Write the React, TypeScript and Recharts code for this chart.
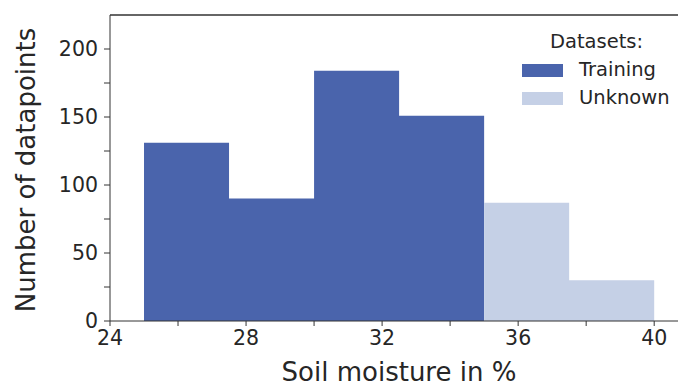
import React from 'react';
import { ComposedChart, Area, XAxis, YAxis, ReferenceLine, Legend } from 'recharts';

const binEdges = [25, 27.5, 30, 32.5, 35, 37.5, 40];
const trainingCounts: (number | null)[] = [131, 90, 184, 151, null, null];
const unknownCounts: (number | null)[] = [null, null, null, null, 87, 30];
const seriesNames = ['Training', 'Unknown'];
const seriesColors = ['#4a64ac', '#c5d0e6'];
const xTicks = [24, 26, 28, 30, 32, 34, 36, 38, 40];
const xMajorTicks = [24, 28, 32, 36, 40];
const yTicks = [0, 25, 50, 75, 100, 125, 150, 175, 200];
const yMajorTicks = [0, 50, 100, 150, 200];

const pick = (arr: (number | null)[], i: number): number | null => {
  const v = i < arr.length ? arr[i] : null;
  if (v != null) return v;
  const p = i > 0 ? arr[i - 1] : null;
  return p != null ? p : null;
};

const data = binEdges.map((x, i) => ({
  x,
  training: pick(trainingCounts, i),
  unknown: pick(unknownCounts, i),
}));

const FONT = '"DejaVu Sans", sans-serif';
const TEXT = '#262626';
const AXIS = '#333333';

const XTick = (props: any) => {
  const { x, y, payload } = props;
  if (!xMajorTicks.includes(payload.value)) return <g />;
  return (
    <text x={x} y={y + 17} textAnchor="middle" fontFamily={FONT} fontSize={20.5} fill={TEXT}>
      {payload.value}
    </text>
  );
};

const YTick = (props: any) => {
  const { x, y, payload } = props;
  if (!yMajorTicks.includes(payload.value)) return <g />;
  return (
    <text x={x - 4} y={y} dy="0.36em" textAnchor="end" fontFamily={FONT} fontSize={20.5} fill={TEXT}>
      {payload.value}
    </text>
  );
};

const LegendContent = () => (
  <div style={{ fontFamily: FONT, fontSize: 19.5, color: TEXT, lineHeight: '24px' }}>
    <div style={{ textAlign: 'center' }}>Datasets:</div>
    <div style={{ marginTop: 2.5 }}>
      {seriesNames.map((n, i) => (
        <div key={n} style={{ display: 'flex', alignItems: 'center', height: 28 }}>
          <div style={{ width: 41, height: 13, background: seriesColors[i], marginRight: 16 }} />
          <span>{n}</span>
        </div>
      ))}
    </div>
  </div>
);

export default function App() {
  return (
    <div style={{ position: 'absolute', left: 0, top: 0, width: 678, height: 387, background: '#fff' }}>
      <ComposedChart width={678} height={387} data={data} margin={{ top: 15, right: 0, left: 0, bottom: 0 }}>
        <XAxis
          type="number"
          dataKey="x"
          domain={[24, 40.7]}
          ticks={xTicks}
          allowDataOverflow
          height={66}
          stroke={AXIS}
          tickSize={5}
          tick={<XTick />}
          label={{
            content: () => (
              <text x={399} y={381} textAnchor="middle" fontFamily={FONT} fontSize={26} fill={TEXT}>
                Soil moisture in %
              </text>
            ),
          }}
        />
        <YAxis
          type="number"
          domain={[0, 225]}
          ticks={yTicks}
          width={110}
          stroke={AXIS}
          tickSize={6}
          tick={<YTick />}
          label={{
            content: () => (
              <text
                x={26}
                y={170}
                transform="rotate(-90 26 170)"
                textAnchor="middle"
                dominantBaseline="central"
                fontFamily={FONT}
                fontSize={26}
                fill={TEXT}
              >
                Number of datapoints
              </text>
            ),
          }}
        />
        <ReferenceLine y={225} stroke={AXIS} strokeWidth={1.3} />
        <Area
          dataKey="training"
          name={seriesNames[0]}
          type="stepAfter"
          fill={seriesColors[0]}
          fillOpacity={1}
          stroke="none"
          baseValue={0}
          dot={false}
          activeDot={false}
          isAnimationActive={false}
        />
        <Area
          dataKey="unknown"
          name={seriesNames[1]}
          type="stepAfter"
          fill={seriesColors[1]}
          fillOpacity={1}
          stroke="none"
          baseValue={0}
          dot={false}
          activeDot={false}
          isAnimationActive={false}
        />
        <Legend
          layout="horizontal"
          align="center"
          verticalAlign="middle"
          width={149}
          wrapperStyle={{ left: 522, top: 29.5, width: 149 }}
          content={<LegendContent />}
        />
      </ComposedChart>
    </div>
  );
}
